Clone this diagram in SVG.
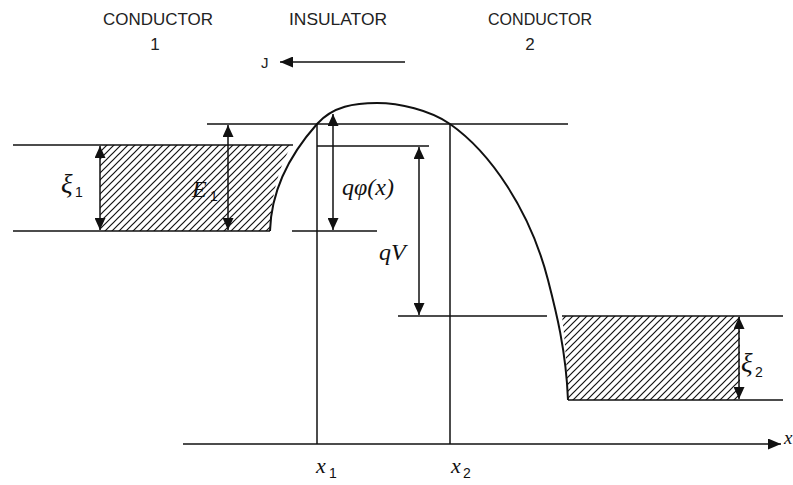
<svg xmlns="http://www.w3.org/2000/svg" width="793" height="485" viewBox="0 0 793 485">
<defs>
<style>
.ln{stroke:#111;stroke-width:1.5;fill:none}
.crv{stroke:#111;stroke-width:2;fill:none}
.dim{stroke:#111;stroke-width:1.5;fill:none;marker-start:url(#ah);marker-end:url(#ah)}
.hd{font-family:"Liberation Sans",Arial,sans-serif;font-size:17px;fill:#222}
.it{font-family:"Liberation Serif","Times New Roman",serif;font-style:italic;font-size:24px;fill:#111}
.sb{font-family:"Liberation Sans",Arial,sans-serif;font-size:14px;fill:#111}
.hatch{fill:url(#hp);stroke:none}
</style>
<marker id="ah" viewBox="0 0 12 11" refX="12" refY="5.5" markerWidth="12" markerHeight="11" markerUnits="userSpaceOnUse" orient="auto-start-reverse">
<path d="M0,0 L12,5.5 L0,11 Z" fill="#111"/>
</marker>
<marker id="ah2" viewBox="0 0 13 11" refX="13" refY="5.5" markerWidth="13" markerHeight="11" markerUnits="userSpaceOnUse" orient="auto">
<path d="M0,0 L13,5.5 L0,11 Z" fill="#111"/>
</marker>
<pattern id="hp" patternUnits="userSpaceOnUse" width="7" height="7">
<path d="M-1,1 L1,-1 M0,7 L7,0 M6,8 L8,6" stroke="#111" stroke-width="1.2"/>
</pattern>
</defs>
<rect width="793" height="485" fill="#fff"/>

<g id="labels-top">
<text class="hd" x="103" y="25" textLength="110" lengthAdjust="spacingAndGlyphs">CONDUCTOR</text>
<text class="hd" x="155" y="50" text-anchor="middle">1</text>
<text class="hd" x="289" y="25" textLength="98" lengthAdjust="spacingAndGlyphs">INSULATOR</text>
<text class="hd" x="488" y="25" textLength="104" lengthAdjust="spacingAndGlyphs">CONDUCTOR</text>
<text class="hd" x="530" y="50" text-anchor="middle">2</text>
</g>

<g id="current-J">
<text class="hd" x="261" y="68" style="font-size:15px">J</text>
</g>

<g id="conductor1">
<path class="hatch" d="M100,145 L292,145 C281,162 271,192 270,231 L100,231 Z"/>
<text class="it" x="61" y="193" style="font-size:27px">ξ</text>
<text class="sb" x="75" y="197">1</text>
<text class="it" x="192" y="197">E</text>
<text class="sb" x="210" y="201">1</text>
</g>

<g id="conductor2">
<path class="hatch" d="M562,316 L740,316 L740,400 L568,400 C567,370 565,340 562,316 Z"/>
<text class="it" x="741" y="372" style="font-size:27px">ξ</text>
<text class="sb" x="755" y="377">2</text>
</g>

<g id="barrier">
<path class="crv" d="M270,231 C271,195 285,160 317,124 C333,106 355,103 377,103 C399,103 430,110 450,124 C490,152 530,210 548,280 C556,311 566,350 568,400"/>
<text class="it" x="342" y="195">qφ(x)</text>
<text class="it" x="379" y="260">qV</text>
</g>

<g id="axis">
<text class="it" x="316" y="473" style="font-size:22px">x</text>
<text class="sb" x="329" y="478">1</text>
<text class="it" x="451" y="473" style="font-size:22px">x</text>
<text class="sb" x="463" y="478">2</text>
<text class="it" x="784" y="444" style="font-size:19px">x</text>
</g>

<g id="connectors">
<line class="ln" x1="13" y1="145" x2="293" y2="145"/>
<line class="ln" x1="13" y1="231" x2="270" y2="231"/>
<line class="ln" x1="207" y1="124" x2="568" y2="124"/>
<line class="ln" x1="317" y1="124" x2="317" y2="444"/>
<line class="ln" x1="450" y1="124" x2="450" y2="444"/>
<line class="ln" x1="317" y1="146" x2="429" y2="146"/>
<line class="ln" x1="292" y1="231" x2="377" y2="231"/>
<line class="ln" x1="398" y1="316" x2="547" y2="316"/>
<line class="ln" x1="562" y1="316" x2="783" y2="316"/>
<line class="ln" x1="568" y1="400" x2="783" y2="400"/>
<line class="ln" x1="183" y1="444" x2="781" y2="444" marker-end="url(#ah2)"/>
<line class="ln" x1="405" y1="62" x2="280" y2="62" marker-end="url(#ah2)"/>
<line class="dim" x1="100" y1="146" x2="100" y2="230"/>
<line class="dim" x1="228" y1="125" x2="228" y2="230"/>
<line class="dim" x1="333" y1="114" x2="333" y2="230"/>
<line class="dim" x1="419" y1="147" x2="419" y2="315"/>
<line class="dim" x1="739" y1="317" x2="739" y2="399"/>
</g>
</svg>
